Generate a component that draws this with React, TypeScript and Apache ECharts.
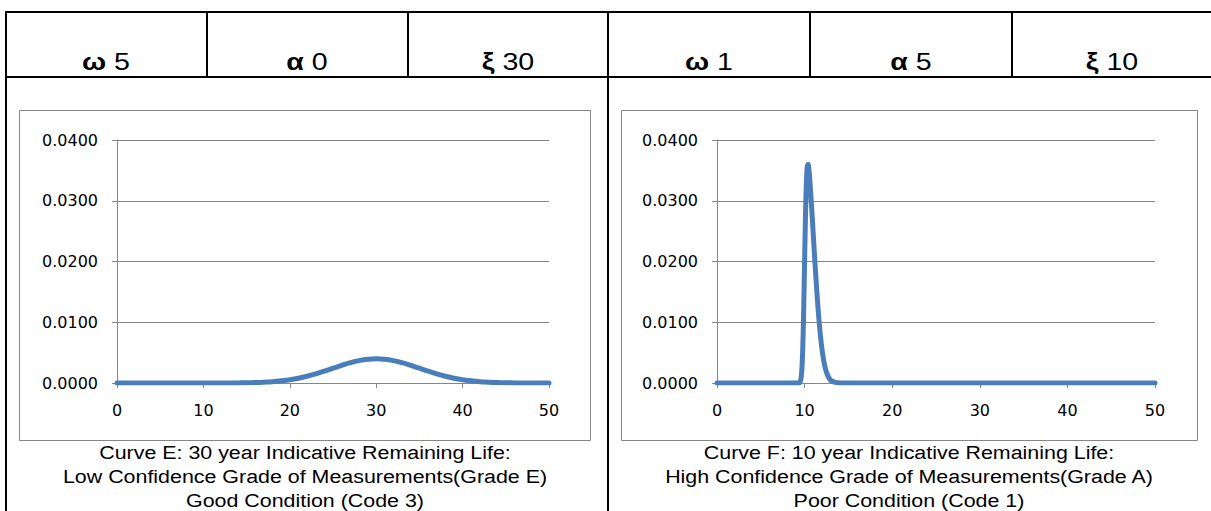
import React, { useEffect, useRef } from "react";
import * as echarts from "echarts";

// ---- Data ----
const headerLeft = [
  { sym: "ω", val: "5" },
  { sym: "α", val: "0" },
  { sym: "ξ", val: "30" },
];
const headerRight = [
  { sym: "ω", val: "1" },
  { sym: "α", val: "5" },
  { sym: "ξ", val: "10" },
];

const xTicks = [0, 10, 20, 30, 40, 50];
const yTicks = [0, 0.01, 0.02, 0.03, 0.04];

const leftX = [
  0, 1, 2, 3, 4, 5, 6, 7, 8, 9, 10, 11, 12, 13, 14, 15, 16, 17, 18, 19, 20,
  21, 22, 23, 24, 25, 26, 27, 28, 29, 30, 31, 32, 33, 34, 35, 36, 37, 38, 39,
  40, 41, 42, 43, 44, 45, 46, 47, 48, 49, 50,
];
const leftY = [
  0, 0, 0, 0, 0, 0, 0, 0, 0, 0, 0, 0, 0, 0, 0.00002, 0.00004, 0.00008,
  0.00014, 0.00022, 0.00036, 0.00054, 0.00079, 0.00111, 0.0015, 0.00195,
  0.00243, 0.0029, 0.00334, 0.00369, 0.00392, 0.004, 0.00392, 0.00369,
  0.00334, 0.0029, 0.00243, 0.00195, 0.0015, 0.00111, 0.00079, 0.00054,
  0.00036, 0.00022, 0.00014, 0.00008, 0.00004, 0.00002, 0, 0, 0, 0,
];

const rightX = [
  0, 5, 9, 9.4, 9.5, 9.6, 9.7, 9.8, 9.9, 10.0, 10.1, 10.2, 10.3, 10.4, 10.5,
  10.6, 10.7, 10.8, 10.9, 11.0, 11.2, 11.4, 11.6, 11.8, 12.0, 12.2, 12.4,
  12.6, 12.8, 13.0, 13.5, 14, 15, 20, 30, 40, 50,
];
const rightY = [
  0, 0, 0, 0, 0.00022, 0.00084, 0.00255, 0.0062, 0.01225, 0.01995, 0.02746,
  0.0329, 0.0356, 0.036, 0.035, 0.0333, 0.0312, 0.029, 0.0266, 0.0242,
  0.0194, 0.015, 0.0111, 0.0079, 0.0054, 0.00355, 0.00224, 0.00136, 0.00079,
  0.00044, 0.00009, 0.00002, 0, 0, 0, 0, 0,
];

const captionLeft = [
  "Curve E: 30 year Indicative Remaining Life:",
  "Low Confidence Grade of Measurements(Grade E)",
  "Good Condition (Code 3)",
];
const captionRight = [
  "Curve F: 10 year Indicative Remaining Life:",
  "High Confidence Grade of Measurements(Grade A)",
  "Poor Condition (Code 1)",
];

const LINE_COLOR = "#4A7EBB";
const GRID_COLOR = "#868686";
const AXIS_FONT = "DejaVu Sans";
const TEXT_FONT = "Liberation Sans";
const STRETCH = 1.19;

export default function App() {
  const ref = useRef<HTMLDivElement>(null);

  useEffect(() => {
    if (!ref.current) return;
    const chart = echarts.init(ref.current, null, { renderer: "svg" });

    const makeX = (gridIndex: number) => ({
      type: "value",
      gridIndex,
      min: xTicks[0],
      max: xTicks[xTicks.length - 1],
      interval: 10,
      axisLine: { show: true, onZero: false, lineStyle: { color: GRID_COLOR, width: 1 } },
      axisTick: { show: true, length: 5, lineStyle: { color: GRID_COLOR } },
      splitLine: { show: false },
      axisLabel: { margin: 19, fontSize: 16, fontFamily: AXIS_FONT, color: "#000" },
    });
    const makeY = (gridIndex: number) => ({
      type: "value",
      gridIndex,
      min: yTicks[0],
      max: yTicks[yTicks.length - 1],
      interval: 0.01,
      axisLine: { show: true, lineStyle: { color: GRID_COLOR, width: 1 } },
      axisTick: { show: true, length: 5, lineStyle: { color: GRID_COLOR } },
      splitLine: { show: true, lineStyle: { color: GRID_COLOR, width: 1 } },
      axisLabel: {
        margin: 19,
        fontSize: 16,
        fontFamily: AXIS_FONT,
        color: "#000",
        formatter: (v: number) => v.toFixed(4),
      },
    });

    const lineSeries = (idx: number, xs: number[], ys: number[], smooth: boolean | number) => ({
      type: "line",
      xAxisIndex: idx,
      yAxisIndex: idx,
      data: xs.map((x, i) => [x, ys[i]]),
      showSymbol: false,
      symbol: "none",
      smooth,
      lineStyle: { color: LINE_COLOR, width: 5, cap: "round", join: "round" },
      z: 5,
    });

    const black = { stroke: "#000", lineWidth: 2 };
    const vline = (x: number, y1: number, y2: number) => ({
      type: "line",
      shape: { x1: x, y1, x2: x, y2 },
      style: black,
      silent: true,
    });
    const hline = (y: number, x1: number, x2: number) => ({
      type: "line",
      shape: { x1, y1: y, x2, y2: y },
      style: black,
      silent: true,
    });

    const headerCells = [
      ...headerLeft.map((h, i) => ({ ...h, cx: [106, 307, 508][i] })),
      ...headerRight.map((h, i) => ({ ...h, cx: [709, 911, 1112][i] })),
    ];

    const headerTexts = headerCells.map((h) => ({
      type: "text",
      x: h.cx,
      y: 74,
      scaleX: STRETCH,
      style: {
        text: `{b|${h.sym}} ${h.val}`,
        font: `24px "${TEXT_FONT}"`,
        fill: "#000",
        align: "center",
        verticalAlign: "bottom",
        rich: {
          b: { fontWeight: "bold", fontSize: 24, fontFamily: TEXT_FONT, fill: "#000" },
        },
      },
      silent: true,
    }));

    const caption = (cx: number, lines: string[]) => ({
      type: "text",
      x: cx,
      y: 441,
      scaleX: STRETCH,
      style: {
        text: lines.join("\n"),
        font: `18px "${TEXT_FONT}"`,
        lineHeight: 24,
        fill: "#000",
        align: "center",
        verticalAlign: "top",
      },
      silent: true,
    });

    const box = (x: number, y: number, w: number, h: number) => ({
      type: "rect",
      shape: { x: x + 0.5, y: y + 0.5, width: w, height: h },
      style: { fill: "none", stroke: GRID_COLOR, lineWidth: 1 },
      silent: true,
      z: -1,
    });

    chart.setOption({
      animation: false,
      backgroundColor: "#fff",
      grid: [
        { left: 117, top: 140, width: 432, height: 243, containLabel: false },
        { left: 717, top: 140, width: 438, height: 243, containLabel: false },
      ],
      xAxis: [makeX(0), makeX(1)],
      yAxis: [makeY(0), makeY(1)],
      series: [
        lineSeries(0, leftX, leftY, true),
        lineSeries(1, rightX, rightY, 0.3),
      ],
      graphic: [
        box(19, 110, 571, 330),
        box(621, 110, 576, 330),
        hline(12, 5, 1211),
        hline(77, 5, 1211),
        vline(6, 11, 511),
        vline(608, 11, 511),
        vline(207, 11, 77),
        vline(408, 11, 77),
        vline(810, 11, 77),
        vline(1012, 11, 77),
        ...headerTexts,
        caption(305, captionLeft),
        caption(909, captionRight),
      ],
    });

    return () => chart.dispose();
  }, []);

  return (
    <div
      ref={ref}
      style={{ position: "absolute", left: 0, top: 0, width: 1211, height: 511, background: "#fff" }}
    />
  );
}
